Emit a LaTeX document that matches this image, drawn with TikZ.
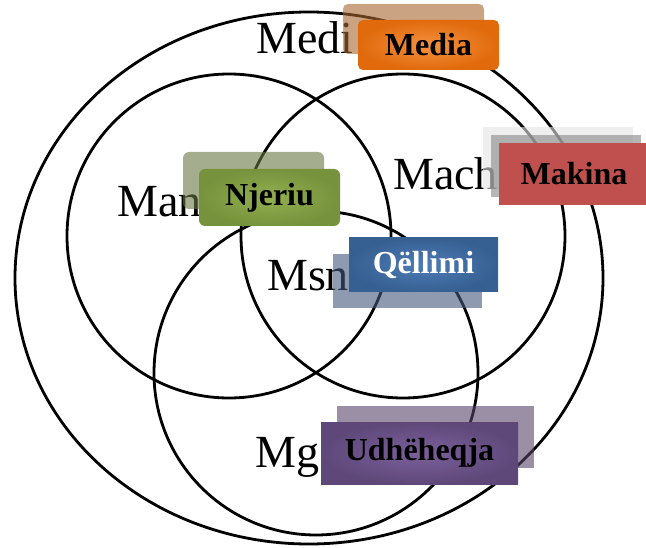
\documentclass[tikz,border=0pt]{standalone}
\usepackage{fontspec}
\setmainfont{Liberation Serif}
\usetikzlibrary{shadows}
\definecolor{mediaout}{HTML}{E06A0C}
\definecolor{mediain}{HTML}{F5913F}
\definecolor{mediashade}{HTML}{A5662F}
\definecolor{njeriuout}{HTML}{76923C}
\definecolor{njeriuin}{HTML}{92B050}
\definecolor{njeriushade}{HTML}{697644}
\definecolor{makinared}{HTML}{C0504D}
\definecolor{qellimout}{HTML}{376092}
\definecolor{qellimin}{HTML}{4C7CB6}
\definecolor{qellimshade}{HTML}{41577A}
\definecolor{udhout}{HTML}{5E4879}
\definecolor{udhin}{HTML}{7C609C}
\definecolor{udhshade}{HTML}{574469}
\begin{document}
\begin{tikzpicture}[x=1pt,y=-1pt,
  ring/.style={line width=2.8pt},
  oldlabel/.style={anchor=base west,inner sep=0pt,font=\fontsize{46}{50}\selectfont},
  mbox/.style={inner sep=0pt,font=\fontsize{32}{36}\selectfont\bfseries}]
\useasboundingbox (0,0) rectangle (646,548);
\draw[ring] (309,278) ellipse [x radius=294pt,y radius=266pt];
\foreach \cx/\cy in {229/236,403/236,316/373} \draw[ring] (\cx,\cy) circle [radius=162pt];
\node[oldlabel] (medi) at (256,54) {Medi};
\node[oldlabel] (mach) at (393,190) {Mach};
\node[oldlabel] (man) at (117,217) {Man};
\node[oldlabel] (msn) at (267,291) {Msn};
\node[oldlabel] (mg) at (255,467) {Mg};
\node[mbox,rounded corners=5pt,minimum width=141pt,minimum height=50pt,
  inner color=mediain,outer color=mediaout,
  general shadow={shadow xshift=-15pt,shadow yshift=16pt,fill=mediashade,fill opacity=0.6}]
  (media) at (428.5,45) {Media};
\node[mbox,minimum width=150pt,minimum height=62pt,fill=makinared,
  general shadow={shadow xshift=-16pt,shadow yshift=16pt,fill=gray!20,fill opacity=0.6},
  general shadow={shadow xshift=-8pt,shadow yshift=8pt,fill=gray!95,fill opacity=0.6}]
  (makina) at (574,174) {Makina};
\node[mbox,rounded corners=6pt,minimum width=141pt,minimum height=57pt,
  inner color=njeriuin,outer color=njeriuout,
  general shadow={shadow xshift=-16pt,shadow yshift=17pt,fill=njeriushade,fill opacity=0.6}]
  (njeriu) at (269.5,197.5) {Njeriu};
\node[mbox,text=white,minimum width=149pt,minimum height=54pt,
  inner color=qellimin,outer color=qellimout,
  general shadow={shadow xshift=-16pt,shadow yshift=-16pt,fill=qellimshade,fill opacity=0.6}]
  (qellimi) at (423.5,265) {Qëllimi};
\node[mbox,minimum width=197pt,minimum height=62pt,
  inner color=udhin,outer color=udhout,
  general shadow={shadow xshift=16pt,shadow yshift=16pt,fill=udhshade,fill opacity=0.6}]
  (udheheqja) at (419.5,453) {Udhëheqja};
\end{tikzpicture}
\end{document}
